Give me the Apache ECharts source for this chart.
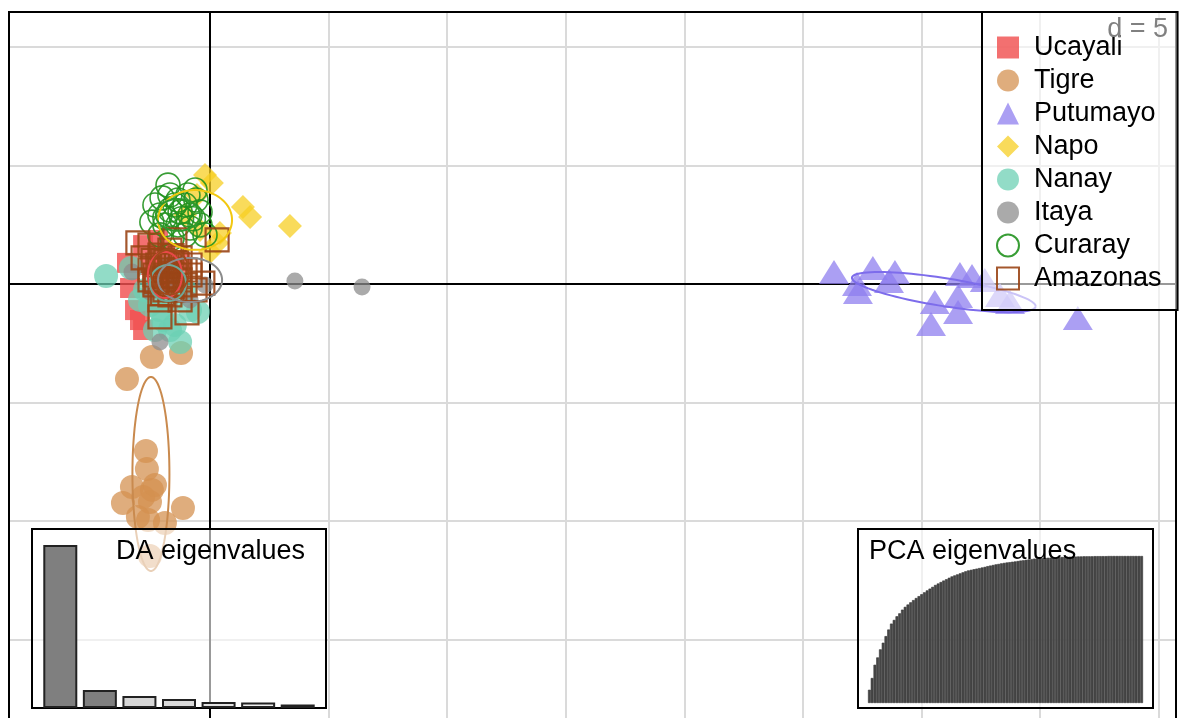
<!DOCTYPE html>
<html>
<head>
<meta charset="utf-8">
<script src="https://cdn.jsdelivr.net/npm/echarts@6/dist/echarts.min.js"></script>
<style>
  html, body { margin: 0; padding: 0; background: #fff; }
  #chart { width: 1184px; height: 718px; }
</style>
</head>
<body>
<div id="chart"></div>
<script>
// groups, in drawing order
const groups = ['Ucayali', 'Tigre', 'Putumayo', 'Napo', 'Nanay', 'Itaya', 'Curaray', 'Amazonas'];

// discriminant function scores [LD1, LD2]
const ucayali = [[-2.82,1.64],[-3.50,0.89],[-3.37,-0.17],[-3.16,-1.10],[-2.95,-1.52],[-2.82,-1.94],[-1.90,1.22],[-1.69,0.59],[-2.11,0.17],[-1.48,-0.25],[-2.32,-0.67],[-1.26,0.93],[-2.53,0.80],[-1.77,-0.67],[-2.19,1.86]];
const tigre = [[-2.45,-3.08],[-1.22,-2.91],[-3.50,-4.01],[-2.70,-7.04],[-2.66,-7.80],[-3.29,-8.56],[-2.45,-8.68],[-3.67,-9.23],[-2.53,-9.19],[-1.14,-9.44],[-2.61,-9.95],[-1.90,-10.08],[-3.04,-9.82],[-2.82,-8.98],[-2.53,-11.47],[-2.32,-8.47]];
const putumayo = [[26.31,0.51],[27.28,0.00],[27.32,-0.34],[27.95,0.67],[28.88,0.51],[28.63,0.13],[30.56,-0.76],[30.40,-1.69],[31.54,-0.51],[31.62,0.42],[32.13,0.34],[31.54,-1.18],[32.67,0.17],[33.31,-0.46],[33.73,-0.76],[36.59,-1.43]];
const napo = [[-0.21,4.60],[0.08,4.26],[1.39,3.25],[1.69,2.82],[3.37,2.45],[-0.55,3.75],[0.30,1.73],[0.00,1.35],[0.42,2.15],[-1.05,2.91],[-0.42,2.28]];
const nanay = [[-4.38,0.34],[-3.33,0.67],[-2.74,-0.25],[-2.53,-0.89],[-1.98,-1.52],[-1.48,-1.73],[-0.84,-1.10],[-0.51,-1.18],[-1.26,-2.45],[-1.60,-0.67],[-1.05,-0.25],[-2.11,-1.10],[-2.95,-0.67],[-1.69,-1.94],[-2.32,-1.94]];
const itaya = [[3.58,0.13],[6.41,-0.13],[-2.11,-2.45],[-3.29,0.51],[-0.21,-0.04],[-1.48,-0.04],[-2.53,-0.34],[-0.84,-0.67],[-1.77,0.80]];
const curaray = [[-2.32,3.33],[-2.02,3.63],[-1.69,3.75],[-1.35,3.54],[-0.93,3.75],[-0.59,3.54],[-0.42,3.04],[-0.84,2.91],[-1.26,3.04],[-1.69,3.12],[-2.11,2.91],[-2.45,2.61],[-1.90,2.49],[-1.35,2.49],[-0.84,2.36],[-0.42,2.49],[-1.05,2.07],[-1.60,1.94],[-2.11,2.07],[-0.21,2.07],[-1.48,3.33],[-1.05,3.33],[-0.63,3.96],[-1.77,4.17],[-1.20,2.75],[-1.90,2.80],[-0.70,2.75]];
const amazonas = [[-3.04,1.73],[0.30,1.86],[-0.30,0.04],[-2.11,-1.39],[-0.97,-1.22],[-2.82,1.10],[-2.53,0.59],[-2.11,1.22],[-1.69,1.43],[-1.26,1.10],[-0.84,0.80],[-2.32,-0.04],[-1.90,0.17],[-1.48,0.38],[-1.05,-0.04],[-1.69,-0.46],[-2.11,-0.67],[-1.26,-0.67],[-0.63,-0.25],[-2.53,1.64],[-1.90,0.93],[-1.48,1.86],[-1.69,0.80],[-2.32,0.38],[-1.26,0.17],[-0.84,0.38],[-1.90,-0.25],[-2.53,0.17],[-1.48,-0.25],[-2.11,0.59],[-1.05,0.59],[-1.69,0.00],[-2.00,1.00],[-1.60,1.20],[-2.20,0.80],[-1.30,0.60],[-1.80,0.30],[-2.40,1.00],[-1.40,0.90],[-2.00,-0.40],[-1.60,-0.10],[-2.25,0.10]];

// inertia ellipses per group: [centre x, centre y, semi-axis a, semi-axis b, angle deg]
const ellipses = [[-1.90,0.38,0.72,0.97,0],[-2.49,-8.01,0.78,4.09,0],[30.94,-0.34,3.92,0.59,-9],[-0.63,2.70,1.56,1.26,0],[-1.77,0.04,0.76,0.76,0],[-0.84,0.17,1.35,0.93,0],[-1.35,2.91,0.93,0.67,0],[-1.69,0.51,0.80,0.95,0]];

// grid lines (d = 5)
const gridX = [5, 10, 15, 20, 25, 30, 35, 40];
const gridY = [10, 5, -5, -10, -15];

// inset bar charts
const daEig = [163, 18, 12, 9, 6, 5.5, 3.5];
const pcaCum = [9,17,26,31,36.5,41,45.5,50,54,56.5,59,61,63.5,65.4,67,68.5,70,71.4,72.7,74,75.3,76.6,77.8,79,80.3,81.3,82.3,83.3,84.2,85.2,86.1,86.8,87.5,88.2,88.9,89.6,90.2,90.6,91,91.4,91.8,92.2,92.6,93.1,93.5,93.9,94.3,94.6,95,95.3,95.6,95.8,96.1,96.3,96.6,96.9,97.1,97.4,97.7,97.9,98.2,98.3,98.4,98.5,98.7,98.8,98.9,99,99.1,99.2,99.3,99.4,99.5,99.5,99.6,99.6,99.7,99.7,99.8,99.8,99.8,99.8,99.9,99.9,99.9,99.9,99.9,100,100,100,100,100,100,100,100,100,100,100,100,100];

// styling
const pointSets = [ucayali, tigre, putumayo, napo, nanay, itaya, curaray, amazonas];
const symbols = ['rect', 'circle', 'triangle', 'diamond', 'circle', 'circle', 'circle', 'rect'];
const sizes = [20, 24, [30, 24], 24, 24, 17, 24, 23];
const colors = ['#F05050', '#D4914F', '#8E7EEF', '#F7CF22', '#6CD0B4', '#8C8C8C', '#22921F', '#9A4516'];
const hollow = [false, false, false, false, false, false, true, true];
const ellColors = ['#E84848', '#C98A4E', '#7D6CEB', '#F2C811', '#6FA897', '#8C8C8C', '#2E9A2E', '#A04A1C'];
const daFill = ['#7f7f7f', '#7f7f7f', '#d6d6d6', '#dadada', '#e3e3e3', '#f0f0f0', '#f8f8f8'];

const FONT = 'Liberation Sans';
const chart = echarts.init(document.getElementById('chart'));

const series = [];

// light grid lines and the two axes through the origin
series.push({
  type: 'scatter', name: 'gridlines', data: [], z: 1,
  markLine: {
    silent: true, symbol: 'none', z: 1, animation: false,
    label: { show: false },
    lineStyle: { color: '#dadada', width: 2, type: 'solid' },
    data: gridX.map(v => ({ xAxis: v })).concat(gridY.map(v => ({ yAxis: v })))
  }
});
series.push({
  type: 'scatter', name: 'axes', data: [], z: 1,
  markLine: {
    silent: true, symbol: 'none', z: 1, animation: false,
    label: { show: false },
    lineStyle: { color: '#000', width: 2, type: 'solid' },
    data: [{ xAxis: 0 }, { yAxis: 0 }]
  }
});

groups.forEach((g, i) => {
  series.push({
    type: 'scatter',
    name: g,
    data: pointSets[i],
    symbol: symbols[i],
    symbolSize: sizes[i],
    z: 2,
    itemStyle: hollow[i]
      ? { color: 'rgba(0,0,0,0)', borderColor: colors[i], borderWidth: i === 7 ? 2.2 : 1.6, opacity: 0.9 }
      : { color: colors[i], opacity: i === 0 ? 0.82 : 0.74 }
  });
});

// ellipses
series.push({
  type: 'custom', name: 'ellipses', data: ellipses, z: 3, silent: true,
  renderItem: (params, api) => {
    const cx = api.value(0), cy = api.value(1), a = api.value(2), b = api.value(3);
    const ang = api.value(4) * Math.PI / 180;
    const pts = [];
    for (let k = 0; k <= 90; k++) {
      const t = k / 90 * 2 * Math.PI;
      const ex = a * Math.cos(t), ey = b * Math.sin(t);
      pts.push(api.coord([cx + ex * Math.cos(ang) - ey * Math.sin(ang), cy + ex * Math.sin(ang) + ey * Math.cos(ang)]));
    }
    return { type: 'polyline', shape: { points: pts }, style: { fill: 'none', stroke: ellColors[params.dataIndex], lineWidth: 2 } };
  }
});

// DA eigenvalues inset
series.push({
  type: 'bar', name: 'DA', xAxisIndex: 1, yAxisIndex: 1, z: 11, barWidth: 34,
  data: daEig.map((v, i) => ({ value: v, itemStyle: { color: daFill[i] } })),
  itemStyle: { borderColor: '#222', borderWidth: 2 }
});

// PCA eigenvalues inset
series.push({
  type: 'bar', name: 'PCA', xAxisIndex: 2, yAxisIndex: 2, z: 11, barCategoryGap: '0%',
  data: pcaCum, itemStyle: { color: '#474747', borderColor: '#333', borderWidth: 0.6 }
});

const option = {
  animation: false,
  backgroundColor: '#fff',
  grid: [
    { left: 9, top: 12, width: 1167, height: 706 },
    { left: 40.5, top: 529, width: 277, height: 179 },
    { left: 868, top: 556, width: 275, height: 147 }
  ],
  xAxis: [
    { type: 'value', gridIndex: 0, min: -8.474, max: 40.73, show: false },
    { type: 'category', gridIndex: 1, data: daEig.map((v, i) => i + 1), show: false },
    { type: 'category', gridIndex: 2, data: pcaCum.map((v, i) => i + 1), show: false }
  ],
  yAxis: [
    { type: 'value', gridIndex: 0, min: -18.297, max: 11.467, show: false },
    { type: 'value', gridIndex: 1, min: 0, max: 179, show: false },
    { type: 'value', gridIndex: 2, min: 0, max: 100, show: false }
  ],
  legend: {
    data: groups,
    orient: 'vertical',
    left: 982, top: 12,
    padding: [22, 16, 18, 14],
    itemGap: 6, itemWidth: 22, itemHeight: 22,
    backgroundColor: 'rgba(255,255,255,0.6)',
    borderColor: '#000', borderWidth: 2, borderRadius: 0,
    selectedMode: false, z: 5,
    textStyle: { fontFamily: FONT, fontSize: 27, color: '#000', lineHeight: 26, padding: [0, 0, 0, 10] }
  },
  graphic: [
    // plot frame (bottom edge lies below the visible area)
    { type: 'polyline', z: 4, shape: { points: [[9, 740], [9, 12], [1176, 12], [1176, 740]] }, style: { fill: 'none', stroke: '#000', lineWidth: 2 } },
    { type: 'rect', shape: { x: 32, y: 529, width: 294, height: 179 }, style: { fill: 'rgba(255,255,255,0.6)', stroke: '#000', lineWidth: 2 }, z: 10 },
    { type: 'rect', shape: { x: 858, y: 529, width: 295, height: 179 }, style: { fill: 'rgba(255,255,255,0.6)', stroke: '#000', lineWidth: 2 }, z: 10 },
    { type: 'text', x: 116, y: 552, z: 12, style: { text: 'DA eigenvalues', font: '27px "' + FONT + '"', fill: '#000', textVerticalAlign: 'middle', verticalAlign: 'middle' } },
    { type: 'text', x: 869, y: 552, z: 12, style: { text: 'PCA eigenvalues', font: '27px "' + FONT + '"', fill: '#000', textVerticalAlign: 'middle', verticalAlign: 'middle' } },
    { type: 'text', x: 1168, y: 30, z: 20, style: { text: 'd = 5', font: '27px "' + FONT + '"', fill: '#808080', textAlign: 'right', align: 'right', textVerticalAlign: 'middle', verticalAlign: 'middle' } }
  ],
  series: series
};

chart.setOption(option);
</script>
</body>
</html>
